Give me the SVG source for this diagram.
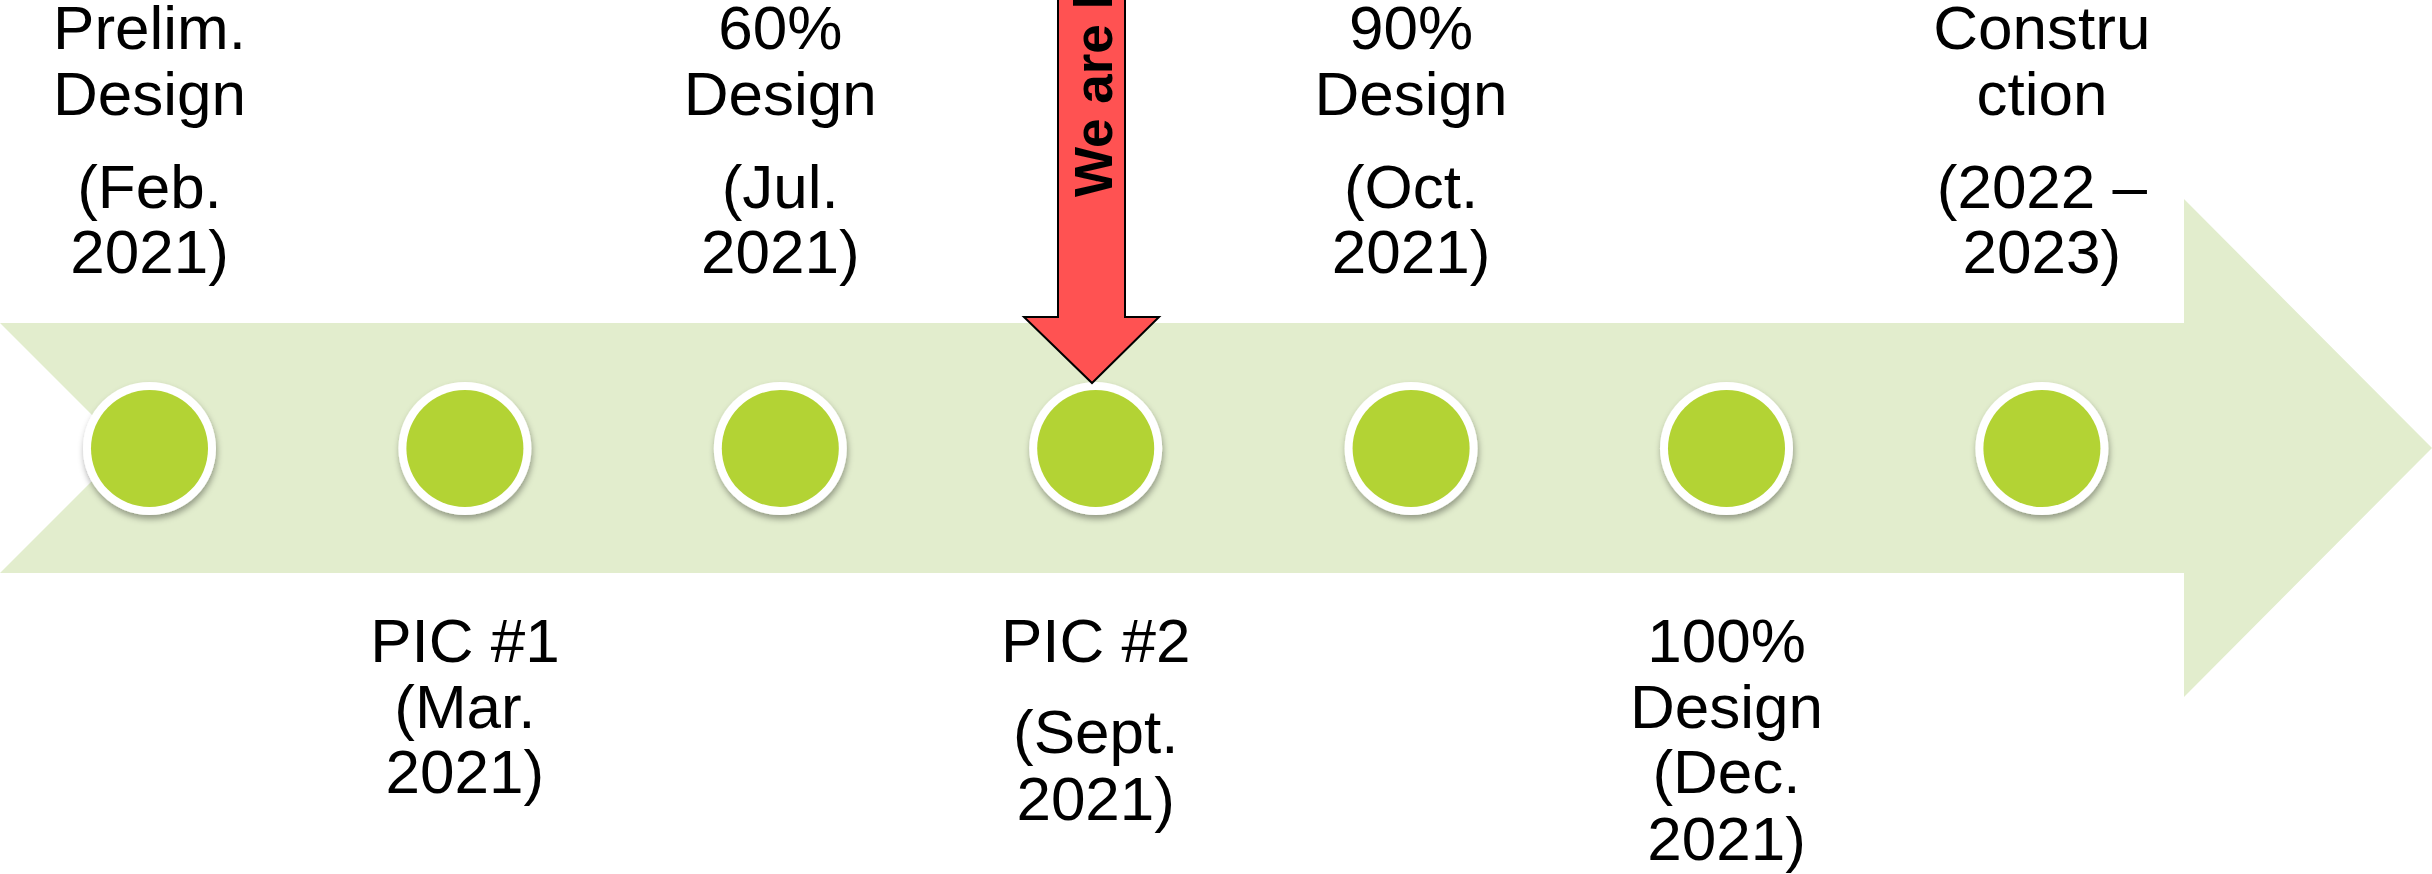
<svg xmlns="http://www.w3.org/2000/svg" width="2432" height="874" viewBox="0 0 2432 874">
  <style>
    .lbl { font-family: "Liberation Sans", Arial, sans-serif; font-size: 62px; fill: #000; text-anchor: middle; }
    .ring { fill: #FFFFFF; filter: url(#sh); }
    .dot { fill: #B3D334; }
    .band { fill: #E2EDCD; }
    .here { fill: #FF5252; stroke: #000; stroke-width: 2; stroke-linejoin: miter; }
    .heretxt { font-family: "Liberation Sans", Arial, sans-serif; font-size: 53px; font-weight: bold; fill: #000; }
  </style>
  <defs>
    <filter id="sh" x="-30%" y="-30%" width="160%" height="170%">
      <feDropShadow dx="1" dy="4" stdDeviation="3" flood-color="#000" flood-opacity="0.35"/>
    </filter>
  </defs>
  <rect x="0" y="0" width="2432" height="874" fill="#FFFFFF"/>
  <g id="connectors">
    <g id="timeline">
      <polygon class="band" points="0,323 2184,323 2184,199 2432,448 2184,697 2184,573 0,573 125,448"/>
    </g>
  </g>
  <g id="node-prelim">
    <circle class="ring" cx="149.5" cy="448.5" r="66.5"/>
    <circle class="dot" cx="149.5" cy="448.5" r="58.5"/>
    <text class="lbl"><tspan x="149.5" y="49">Prelim.</tspan><tspan x="149.5" y="115">Design</tspan><tspan x="149.5" y="208">(Feb.</tspan><tspan x="149.5" y="273">2021)</tspan></text>
  </g>
  <g id="node-pic1">
    <circle class="ring" cx="464.9" cy="448.5" r="66.5"/>
    <circle class="dot" cx="464.9" cy="448.5" r="58.5"/>
    <text class="lbl"><tspan x="464.9" y="662">PIC #1</tspan><tspan x="464.9" y="728">(Mar.</tspan><tspan x="464.9" y="793">2021)</tspan></text>
  </g>
  <g id="node-60">
    <circle class="ring" cx="780.3" cy="448.5" r="66.5"/>
    <circle class="dot" cx="780.3" cy="448.5" r="58.5"/>
    <text class="lbl"><tspan x="780.3" y="49">60%</tspan><tspan x="780.3" y="115">Design</tspan><tspan x="780.3" y="208">(Jul.</tspan><tspan x="780.3" y="273">2021)</tspan></text>
  </g>
  <g id="node-pic2">
    <circle class="ring" cx="1095.7" cy="448.5" r="66.5"/>
    <circle class="dot" cx="1095.7" cy="448.5" r="58.5"/>
    <text class="lbl"><tspan x="1095.7" y="662">PIC #2</tspan><tspan x="1095.7" y="753">(Sept.</tspan><tspan x="1095.7" y="820">2021)</tspan></text>
  </g>
  <g id="node-90">
    <circle class="ring" cx="1411.1" cy="448.5" r="66.5"/>
    <circle class="dot" cx="1411.1" cy="448.5" r="58.5"/>
    <text class="lbl"><tspan x="1411.1" y="49">90%</tspan><tspan x="1411.1" y="115">Design</tspan><tspan x="1411.1" y="208">(Oct.</tspan><tspan x="1411.1" y="273">2021)</tspan></text>
  </g>
  <g id="node-100">
    <circle class="ring" cx="1726.5" cy="448.5" r="66.5"/>
    <circle class="dot" cx="1726.5" cy="448.5" r="58.5"/>
    <text class="lbl"><tspan x="1726.5" y="662">100%</tspan><tspan x="1726.5" y="728">Design</tspan><tspan x="1726.5" y="793">(Dec.</tspan><tspan x="1726.5" y="860">2021)</tspan></text>
  </g>
  <g id="node-construction">
    <circle class="ring" cx="2041.9" cy="448.5" r="66.5"/>
    <circle class="dot" cx="2041.9" cy="448.5" r="58.5"/>
    <text class="lbl"><tspan x="2041.9" y="49">Constru</tspan><tspan x="2041.9" y="115">ction</tspan><tspan x="2041.9" y="208">(2022 –</tspan><tspan x="2041.9" y="273">2023)</tspan></text>
  </g>
  <g id="we-are-here">
    <polygon class="here" points="1058,-5 1125,-5 1125,317 1159,317 1092,383 1024,317 1058,317"/>
    <text class="heretxt" transform="translate(1112,197) rotate(-90)">We are here</text>
  </g>
</svg>
